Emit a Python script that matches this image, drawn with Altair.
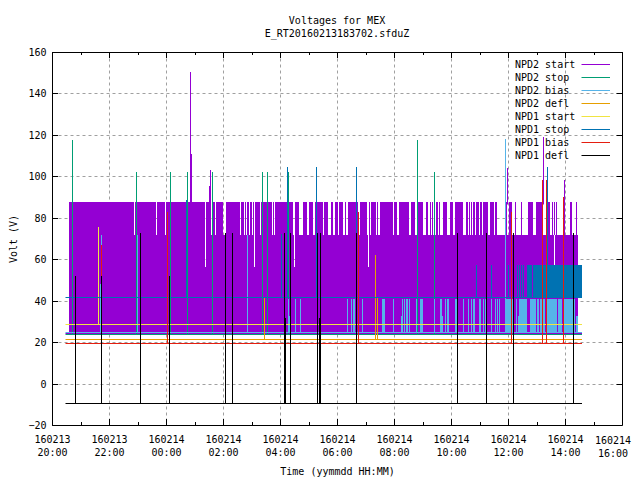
import altair as alt
import pandas as pd

FONT = "DejaVu Sans Mono"

# Axis ticks and labels (x is hours after 160213 20:00)
x_major = [0, 2, 4, 6, 8, 10, 12, 14, 16, 18, 20]
x_minor = [1, 3, 5, 7, 9, 11, 13, 15, 17, 19]
y_major = [-20, 0, 20, 40, 60, 80, 100, 120, 140, 160]
date_labels = ["160213", "160213", "160214", "160214", "160214", "160214", "160214", "160214", "160214", "160214", ""]
time_labels = ["20:00", "22:00", "00:00", "02:00", "04:00", "06:00", "08:00", "10:00", "12:00", "14:00", ""]
last_tick_label = ["160214", "16:00"]
last_tick_x = 19.69
last_tick_y = [-27.6, -33.9]

series_names = ["NPD2 start", "NPD2 stop", "NPD2 bias", "NPD2 defl", "NPD1 start", "NPD1 stop", "NPD1 bias", "NPD1 defl"]
series_colors = ["#9400D3", "#009E73", "#56B4E9", "#E69F00", "#F0E442", "#0072B2", "#E51E10", "#000000"]

# Extent of the constant levels
level_start, level_end = 0.47, 18.60
levels = [24.2, 23.7, 24.9, 21.5, 28.7, 41.8, 19.6, -9.4]

# NPD2 start: body of the trace
purple_body = (0.58, 18.47, 24.2, 56.2)
purple_mid_start = [0.58, 5.39, 7.12, 8.52, 11.12, 17.66]
purple_mid_end = [5.36, 7.08, 8.48, 11.09, 17.62, 18.47]
purple_top_start = [0.61, 2.92, 3.67, 3.99, 5.39, 5.60, 5.75, 6.10, 6.62, 6.76, 6.83, 6.94, 7.05, 7.12, 7.33, 7.75, 7.82, 8.52, 8.80, 9.01, 9.22, 9.54, 9.79, 9.93, 10.07, 10.28, 10.38, 10.80, 11.12, 11.19, 11.40, 11.51, 12.00, 12.18, 12.60, 12.81, 13.12, 13.26, 13.34, 13.41, 13.48, 13.58, 13.72, 13.97, 14.14, 14.53, 14.63, 14.70, 14.78, 14.88, 15.02, 15.13, 15.37, 15.55, 15.93, 16.04, 16.25, 16.46, 16.71, 16.99, 17.38, 17.55, 17.62, 17.69, 17.97, 18.18, 18.40]
purple_top_end = [2.86, 3.64, 3.95, 5.36, 5.57, 5.71, 5.99, 6.59, 6.73, 6.80, 6.90, 7.01, 7.08, 7.29, 7.71, 7.78, 8.45, 8.66, 8.94, 9.15, 9.50, 9.68, 9.86, 10.03, 10.21, 10.31, 10.73, 11.05, 11.16, 11.37, 11.44, 11.97, 12.11, 12.53, 12.74, 13.02, 13.19, 13.30, 13.37, 13.44, 13.55, 13.62, 13.86, 14.07, 14.42, 14.60, 14.67, 14.74, 14.85, 14.99, 15.09, 15.30, 15.51, 15.62, 15.97, 16.15, 16.29, 16.50, 16.88, 17.20, 17.48, 17.59, 17.66, 17.73, 18.01, 18.25, 18.43]
purple_top_low, purple_top_high = 71.8, 87.8
purple_spike_x = [4.84, 4.88, 5.50, 5.55, 15.97, 17.24, 17.96]
purple_spike_top = [150.4, 110.9, 95.5, 103.2, 104.2, 119.1, 98.4]

# NPD2 stop
green_x = [0.70, 2.95, 4.13, 4.73, 5.60, 7.36, 7.54, 8.28, 12.81, 13.41]
green_top = [117.7, 102.2, 102.2, 102.2, 102.2, 102.2, 102.2, 102.2, 117.7, 102.2]

# NPD2 bias
blue_l_start = [1.67, 1.71, 2.97, 6.83, 8.28, 8.31, 8.52, 8.69, 9.60, 10.34, 10.48, 10.56, 10.87, 11.04, 11.18, 11.58, 11.96, 12.25, 12.28, 12.34, 12.42, 12.52, 12.76, 12.90, 12.94, 12.97, 13.11, 13.18, 13.40, 13.62, 13.69, 13.78, 13.86, 14.14, 14.41, 14.59, 14.69, 14.78, 14.99, 15.12, 15.19, 15.40, 15.54, 15.61, 15.68, 15.89, 15.93, 16.29, 16.36, 16.39, 16.78, 17.02, 17.13, 17.34, 17.76, 17.94, 18.40]
blue_l_end = [1.71, 1.75, 3.00, 6.87, 8.31, 8.35, 8.55, 8.72, 9.63, 10.37, 10.51, 10.63, 10.90, 11.07, 11.21, 11.68, 11.99, 12.28, 12.32, 12.37, 12.49, 12.55, 12.79, 12.93, 12.97, 13.00, 13.14, 13.21, 13.43, 13.69, 13.72, 13.81, 13.93, 14.21, 14.44, 14.62, 14.72, 14.85, 15.06, 15.15, 15.22, 15.43, 15.57, 15.64, 15.71, 15.92, 16.22, 16.32, 16.39, 16.67, 16.99, 17.09, 17.31, 17.73, 17.90, 18.36, 18.45]
blue_l_top = [48.0, 71.8, 71.8, 71.8, 41.0, 32.7, 41.0, 41.0, 41.0, 41.0, 41.0, 41.0, 41.0, 41.0, 41.0, 41.0, 41.0, 32.7, 41.0, 41.0, 41.0, 41.0, 41.0, 41.0, 41.0, 41.0, 41.0, 41.0, 41.0, 41.0, 32.7, 41.0, 41.0, 41.0, 41.0, 41.0, 41.0, 41.0, 41.0, 41.0, 41.0, 41.0, 41.0, 41.0, 41.0, 118.2, 41.0, 41.0, 32.7, 41.0, 41.0, 41.0, 41.0, 41.0, 41.0, 41.0, 32.7]

# NPD2 defl
orange_x = [7.43, 11.35, 11.39]
orange_top = [41.4, 62.2, 41.4]

# NPD1 start
yellow_x = [1.62]
yellow_top = [75.7]

# NPD1 stop
stop_band_start = [14.87, 15.40, 16.00, 16.18, 16.32, 16.39, 16.46, 16.53, 16.67, 16.88]
stop_band_end = [14.90, 15.43, 16.04, 16.22, 16.36, 16.43, 16.50, 16.57, 16.85, 18.60]
stop_band_low, stop_band_high = 41.8, 57.4
stop_x = [4.69, 8.03, 8.24, 9.26, 9.29, 10.66, 17.36]
stop_top = [88.7, 72.0, 104.6, 104.6, 72.0, 104.6, 104.6]

# NPD1 bias
red_x = [1.72, 4.03, 10.75, 16.11, 17.20, 17.34, 17.94]
red_top = [67.0, 82.9, 82.9, 82.9, 98.4, 98.4, 90.2]

# NPD1 defl
black_x = [0.80, 1.71, 3.08, 4.10, 6.07, 6.32, 8.14, 8.19, 8.35, 9.30, 9.36, 9.41, 10.67, 14.22, 15.24, 16.16, 18.27]
black_top = [52.0, 52.0, 72.8, 52.0, 72.8, 72.8, 72.8, 31.8, 72.8, 72.8, 31.8, 72.8, 72.8, 72.8, 72.8, 72.8, 72.8]

# Key, in data units
key_rows = [154.2, 147.9, 141.7, 135.4, 129.1, 122.9, 116.6, 110.3]
key_text_x = 16.24
key_line_x = (18.57, 19.59)

xscale = alt.Scale(domain=[0, 20], nice=False, zero=False, round=True)
yscale = alt.Scale(domain=[-20, 160], nice=False, zero=False, round=True)

labels_expr = "[" + str(date_labels) + "[datum.value / 2], " + str(time_labels) + "[datum.value / 2]]"

x_axis = alt.Axis(
    values=x_major, grid=True, gridColor="#a0a0a0", gridDash=[3, 3], gridWidth=1,
    tickSize=0, domain=False, labelExpr=labels_expr, labelLineHeight=13,
    labelPadding=9, labelFont=FONT, labelFontSize=10, labelColor="black",
    labelAngle=0, labelOverlap=False, labelFlush=False, labelBaseline="top",
    title="Time (yymmdd HH:MM)", titleFont=FONT, titleFontSize=10,
    titleFontWeight="normal", titleColor="black", titlePadding=9,
)
y_axis = alt.Axis(
    values=y_major, grid=True, gridColor="#a0a0a0", gridDash=[3, 3], gridWidth=1,
    tickSize=0, domain=False, labelPadding=6, labelFont=FONT, labelFontSize=10,
    labelColor="black", title="Volt (V)", titleFont=FONT, titleFontSize=10,
    titleFontWeight="normal", titleColor="black", titlePadding=9,
)
RULE = dict(xOffset=0.5, yOffset=0.5, strokeWidth=1)


def X(f):
    return alt.X(f, type="quantitative", scale=xscale, axis=x_axis)


def Y(f):
    return alt.Y(f, type="quantitative", scale=yscale, axis=y_axis)


def rects(starts, ends, lows, highs, color):
    df = pd.DataFrame({"a": starts, "b": ends, "lo": lows, "hi": highs})
    return alt.Chart(df).mark_rect(color=color, stroke=None).encode(x=X("a"), x2="b", y=Y("lo"), y2="hi")


def spikes(xs, tops, bottom, color):
    df = pd.DataFrame({"a": xs, "hi": tops, "lo": [bottom] * len(xs)})
    return alt.Chart(df).mark_rule(color=color, **RULE).encode(x=X("a"), y=Y("lo"), y2="hi")


def level(value, color):
    df = pd.DataFrame({"a": [level_start], "b": [level_end], "v": [value]})
    return alt.Chart(df).mark_rule(color=color, **RULE).encode(x=X("a"), x2="b", y=Y("v"))


layers = []

# NPD2 start
n = len(purple_top_start)
layers.append(rects(purple_top_start, purple_top_end, [purple_top_low] * n, [purple_top_high] * n, series_colors[0]))
m = len(purple_mid_start)
layers.append(rects(purple_mid_start, purple_mid_end, [purple_body[3]] * m, [purple_top_low] * m, series_colors[0]))
layers.append(rects([purple_body[0]], [purple_body[1]], [purple_body[2]], [purple_body[3]], series_colors[0]))
layers.append(spikes(purple_spike_x, purple_spike_top, purple_top_high - 1, series_colors[0]))
layers.append(level(levels[0], series_colors[0]))
# NPD2 stop
layers.append(spikes(green_x, green_top, levels[1], series_colors[1]))
layers.append(level(levels[1], series_colors[1]))
# NPD2 bias
layers.append(rects(blue_l_start, blue_l_end, [levels[2]] * len(blue_l_start), blue_l_top, series_colors[2]))
layers.append(level(levels[2], series_colors[2]))
# NPD2 defl
layers.append(spikes(orange_x, orange_top, levels[3], series_colors[3]))
layers.append(level(levels[3], series_colors[3]))
# NPD1 start
layers.append(spikes(yellow_x, yellow_top, levels[4], series_colors[4]))
layers.append(level(levels[4], series_colors[4]))
# NPD1 stop
b = len(stop_band_start)
layers.append(rects(stop_band_start, stop_band_end, [stop_band_low] * b, [stop_band_high] * b, series_colors[5]))
layers.append(spikes(stop_x, stop_top, levels[5], series_colors[5]))
layers.append(level(levels[5], series_colors[5]))
# NPD1 bias
layers.append(spikes(red_x, red_top, levels[6], series_colors[6]))
layers.append(level(levels[6], series_colors[6]))
# NPD1 defl
layers.append(spikes(black_x, black_top, levels[7], series_colors[7]))
layers.append(level(levels[7], series_colors[7]))

# Frame and inward ticks on all four sides
tx = [{"x": 0, "y1": -20, "y2": 160}, {"x": 20, "y1": -20, "y2": 160}]
for v in x_major:
    tx.append({"x": v, "y1": -20, "y2": -17.1})
    tx.append({"x": v, "y1": 160, "y2": 157.1})
for v in x_minor:
    tx.append({"x": v, "y1": -20, "y2": -18.5})
    tx.append({"x": v, "y1": 160, "y2": 158.5})
layers.append(alt.Chart(pd.DataFrame(tx)).mark_rule(color="black", **RULE).encode(x=X("x"), y=Y("y1"), y2="y2"))
ty = [{"y": -20, "x1": 0, "x2": 20}, {"y": 160, "x1": 0, "x2": 20}]
for v in y_major:
    ty.append({"y": v, "x1": 0, "x2": 0.2})
    ty.append({"y": v, "x1": 19.8, "x2": 20})
layers.append(alt.Chart(pd.DataFrame(ty)).mark_rule(color="black", **RULE).encode(y=Y("y"), x=X("x1"), x2="x2"))

# Last tick label, kept inside the page
last = pd.DataFrame({"t": last_tick_label, "x": [last_tick_x] * 2, "y": last_tick_y})
layers.append(alt.Chart(last).mark_text(align="center", baseline="middle", font=FONT, fontSize=10, color="black").encode(
    x=X("x"), y=Y("y"), text="t:N"))

# Key
key = pd.DataFrame({"name": series_names, "color": series_colors, "row": key_rows,
                    "tx": [key_text_x] * 8, "a": [key_line_x[0]] * 8, "b": [key_line_x[1]] * 8})
layers.append(alt.Chart(key).mark_text(align="left", baseline="middle", dy=1, font=FONT, fontSize=10, color="black").encode(
    x=X("tx"), y=Y("row"), text="name:N"))
layers.append(alt.Chart(key).mark_rule(**RULE).encode(
    x=X("a"), x2="b", y=Y("row"), color=alt.Color("color:N", scale=None)))

chart = alt.layer(*layers).properties(
    width=570, height=373,
    padding={"left": 44, "top": 44, "right": 10, "bottom": 52},
    autosize=alt.AutoSizeParams(type="none"),
    title=alt.TitleParams(
        text=["Voltages for MEX", "E_RT20160213183702.sfduZ"], font=FONT, fontSize=10,
        fontWeight="normal", color="black", anchor="middle", lineHeight=13, offset=8,
    ),
).configure_view(stroke=None).configure(background="white")

chart.save("out.html", embed_options={"renderer": "svg", "actions": False})
